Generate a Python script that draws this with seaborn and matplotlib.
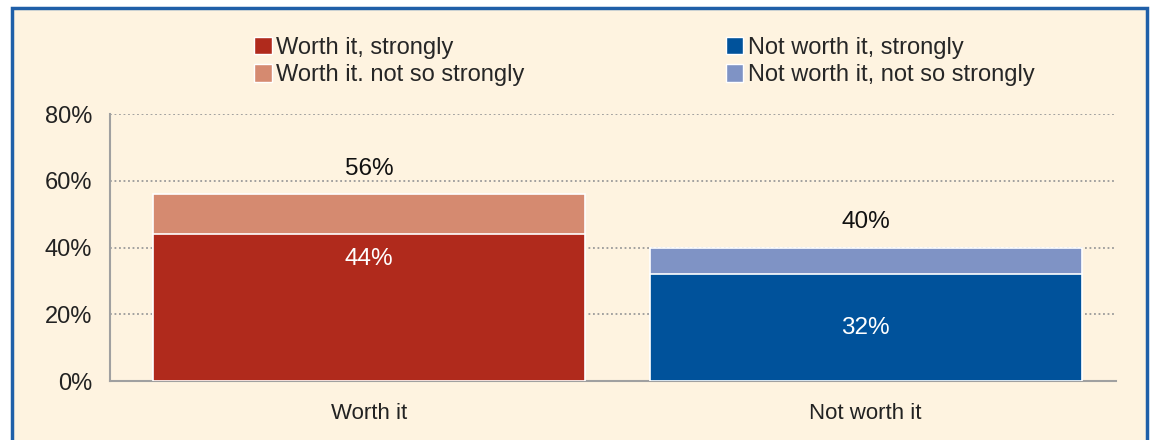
import matplotlib
matplotlib.use("Agg")
import matplotlib.pyplot as plt
from matplotlib.patches import Rectangle, Patch
import seaborn as sns
import pandas as pd

categories = ["Worth it", "Not worth it"]
strongly = [44, 32]
total = [56, 40]
strong_colors = ["#B02A1C", "#00529B"]
soft_colors = ["#D58A70", "#7F93C5"]
legend_labels = ["Worth it, strongly", "Worth it. not so strongly",
                 "Not worth it, strongly", "Not worth it, not so strongly"]
yticks = [0, 20, 40, 60, 80]

sns.set_style("white")
plt.rcParams["font.family"] = ["Liberation Sans", "DejaVu Sans"]

bg = "#FEF3E0"
fig = plt.figure(figsize=(11.57, 4.4), dpi=100, facecolor="white")
fig.patches.append(Rectangle((12 / 1157, -0.05), (1147 - 12) / 1157, 1.05 - 8 / 440,
                             transform=fig.transFigure, facecolor=bg,
                             edgecolor="#1F5FA8", linewidth=2.5, zorder=-1))

ax = fig.add_axes([110 / 1157, 1 - 381 / 440, (1116 - 110) / 1157, (381 - 114) / 440])
ax.set_facecolor(bg)

df = pd.DataFrame({"cat": categories, "total": total, "strong": strongly})
sns.barplot(data=df, x="cat", y="total", hue="cat", palette=soft_colors, saturation=1,
            width=0.87, edgecolor="white", linewidth=1.2, legend=False, ax=ax, zorder=2)
sns.barplot(data=df, x="cat", y="strong", hue="cat", palette=strong_colors, saturation=1,
            width=0.87, edgecolor="white", linewidth=1.2, legend=False, ax=ax, zorder=3)

ax.set_xlim(-0.522, 1.504)
ax.set_ylim(0, 80)
ax.set_yticks(yticks)
ax.set_yticklabels([f"{t}%" for t in yticks], fontsize=17, color="#222222")
for t in yticks[1:]:
    ax.axhline(t, color="#9A9A9A", linestyle=(0, (1, 1.5)), linewidth=1.3, zorder=1)

ax.set_xlabel("")
ax.set_ylabel("")
ax.tick_params(axis="x", length=0, labelsize=16, labelcolor="#222222", pad=16)
ax.set_xticks([-0.522, 0.524, 1.504], minor=True)
ax.tick_params(axis="x", which="minor", length=6, color="#A0A0A0", width=1.5, direction="out")
ax.tick_params(axis="y", length=6, color="#A0A0A0", width=1.5, direction="out", pad=7)

for s in ["top", "right"]:
    ax.spines[s].set_visible(False)
for s in ["left", "bottom"]:
    ax.spines[s].set_color("#A0A0A0")
    ax.spines[s].set_linewidth(1.5)

# value labels
for i, (s, t) in enumerate(zip(strongly, total)):
    ax.text(i, t + 7.5, f"{t}%", ha="center", va="center", fontsize=17.5, color="#111111")
    ypos = s - 7.5 if i == 0 else s / 2
    ax.text(i, ypos, f"{s}%", ha="center", va="center", fontsize=17.5, color="white")

handles = [Patch(facecolor=strong_colors[0], edgecolor="white"),
           Patch(facecolor=soft_colors[0], edgecolor="white"),
           Patch(facecolor=strong_colors[1], edgecolor="white"),
           Patch(facecolor=soft_colors[1], edgecolor="white")]
fig.legend(handles, legend_labels, ncol=2, loc="upper left", bbox_to_anchor=(254 / 1157, 1 - 37 / 440),
           frameon=False, fontsize=17, handlelength=0.75, handleheight=0.75,
           handletextpad=0.2, columnspacing=8.5, labelspacing=0.22, borderpad=0, borderaxespad=0)

fig.savefig("out.png", dpi=100, facecolor="white")
